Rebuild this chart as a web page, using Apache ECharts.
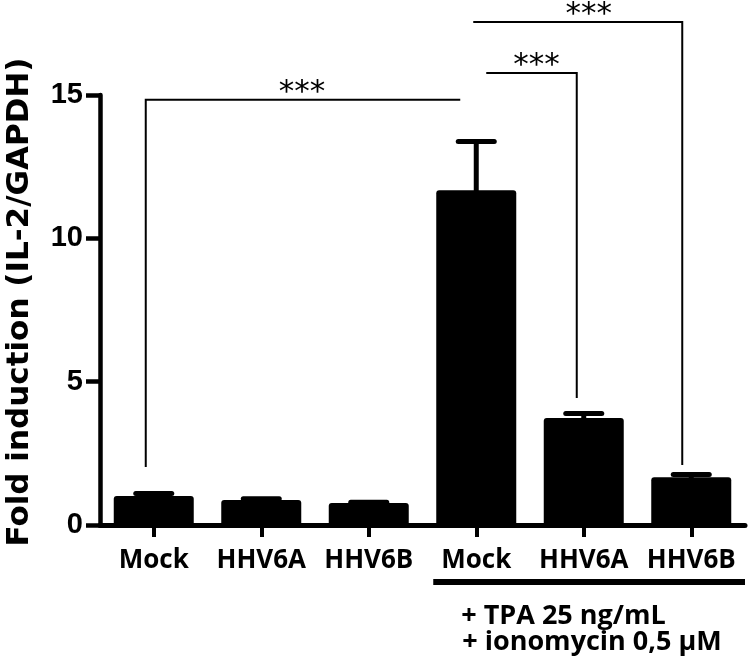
<!DOCTYPE html>
<html><head><meta charset="utf-8">
<script src="https://cdn.jsdelivr.net/npm/echarts@6/dist/echarts.min.js"></script>
<style>html,body{margin:0;padding:0;background:#fff}#c{width:750px;height:667px}</style>
</head><body><div id="c"></div>
<script>
// ---- data ----
const categories = ['Mock', 'HHV6A', 'HHV6B', 'Mock', 'HHV6A', 'HHV6B'];
const means = [1.01, 0.87, 0.77, 11.68, 3.73, 1.67];
const sems = [0.09, 0.05, 0.02, 1.70, 0.16, 0.09];
const yTicks = [0, 5, 10, 15];
const yTitle = 'Fold induction (IL-2/GAPDH)';
const treatmentLines = ['+ TPA 25 ng/mL', '+ ionomycin 0,5 µM'];
const treatedFrom = 3, treatedTo = 5;
// significance brackets: from/to category, bracket height & leg ends in data units
const brackets = [
  { from: 0, to: 3, top: 14.83, legFrom: 2.02, legTo: null, label: '***' },
  { from: 3, to: 4, top: 15.77, legFrom: null, legTo: 4.43, label: '***' },
  { from: 3, to: 5, top: 17.55, legFrom: null, legTo: 2.09, label: '***' }
];
// ---- styling (pixel offsets) ----
const bracketOffsets = [
  { x0: -8, x1: -16, lx: -1 },
  { x0: 10, x1: -7, lx: 5 },
  { x0: -3, x1: -9, lx: 11 }
];

const chart = echarts.init(document.getElementById('c'), null, { renderer: 'canvas' });

const option = {
  animation: false,
  backgroundColor: '#fff',
  grid: { left: 100, right: 5, top: 95, bottom: 142, containLabel: false, outerBoundsMode: 'none' },
  xAxis: {
    type: 'category',
    data: categories,
    boundaryGap: true,
    axisLine: { show: true, lineStyle: { color: '#000', width: 5 } },
    axisTick: { show: true, alignWithLabel: true, length: 12, lineStyle: { color: '#000', width: 4 } },
    axisLabel: { show: true, interval: 0, margin: 23, color: '#000', fontFamily: 'Open Sans', fontWeight: 'bold', fontSize: 26 },
    splitLine: { show: false }
  },
  yAxis: {
    type: 'value',
    min: 0, max: 15, interval: 5,
    axisLine: { show: true, lineStyle: { color: '#000', width: 4.5 } },
    axisTick: { show: true, length: 14, lineStyle: { color: '#000', width: 4.5 } },
    axisLabel: {
      show: true, margin: 17, color: '#000',
      fontFamily: '"Liberation Sans Narrow", "Liberation Sans", Arial, sans-serif',
      fontWeight: 'bold', fontSize: 29,
      formatter: v => (yTicks.indexOf(v) >= 0 ? String(v) : '')
    },
    splitLine: { show: false }
  },
  series: [
    {
      type: 'bar',
      data: means,
      barWidth: 80,
      itemStyle: { color: '#000', borderRadius: [3, 3, 0, 0] },
      z: 2
    },
    {
      type: 'custom',
      name: 'sem',
      data: means.map((m, i) => [i, m, m + sems[i]]),
      encode: { x: 0, y: [1, 2] },
      z: 3,
      renderItem: function (params, api) {
        const i = api.value(0);
        const p0 = api.coord([i, api.value(1)]);
        const p1 = api.coord([i, api.value(2)]);
        return {
          type: 'group',
          children: [
            { type: 'line', shape: { x1: p0[0], y1: p0[1] + 2, x2: p1[0], y2: p1[1] },
              style: { stroke: '#000', lineWidth: 5 } },
            { type: 'line', shape: { x1: p1[0] - 18, y1: p1[1], x2: p1[0] + 18, y2: p1[1] },
              style: { stroke: '#000', lineWidth: 5, lineCap: 'round' } }
          ]
        };
      }
    },
    {
      type: 'custom',
      name: 'brackets',
      data: brackets.map(b => [b.from, b.top]),
      encode: { x: 0, y: 1 },
      clip: false,
      z: 4,
      renderItem: function (params, api) {
        const b = brackets[params.dataIndex];
        const o = bracketOffsets[params.dataIndex];
        const pA = api.coord([b.from, b.top]);
        const pB = api.coord([b.to, b.top]);
        const xa = pA[0] + o.x0, xb = pB[0] + o.x1, y = pA[1];
        let pts;
        if (b.legFrom !== null) {
          pts = [[xa, api.coord([b.from, b.legFrom])[1]], [xa, y], [xb, y]];
        } else {
          pts = [[xa, y], [xb, y], [xb, api.coord([b.to, b.legTo])[1]]];
        }
        return {
          type: 'group',
          children: [
            { type: 'polyline', shape: { points: pts },
              style: { stroke: '#000', lineWidth: 2, fill: null } },
            { type: 'text', x: (xa + xb) / 2 + o.lx, y: y - 7,
              style: { text: b.label, fill: '#000', font: '31px "DejaVu Sans"',
                       align: 'center', verticalAlign: 'middle' } }
          ]
        };
      }
    }
  ]
};
chart.setOption(option);

// annotations positioned from the axes
const c0 = chart.convertToPixel({ xAxisIndex: 0 }, treatedFrom);
const c1 = chart.convertToPixel({ xAxisIndex: 0 }, treatedTo);
const band = chart.convertToPixel({ xAxisIndex: 0 }, 1) - chart.convertToPixel({ xAxisIndex: 0 }, 0);
const y0 = chart.convertToPixel({ yAxisIndex: 0 }, 0);
const yTop = chart.convertToPixel({ yAxisIndex: 0 }, 15);
chart.setOption({
  graphic: [
    { type: 'line', shape: { x1: c0 - 43, y1: y0 + 57, x2: c1 + band / 2, y2: y0 + 57 },
      style: { stroke: '#000', lineWidth: 6 } },
    { type: 'text', x: c0 - 15, y: y0 + 91,
      style: { text: treatmentLines[0], fill: '#000', font: 'bold 27px "Open Sans"',
               align: 'left', verticalAlign: 'middle' } },
    { type: 'text', x: c0 - 14, y: y0 + 117,
      style: { text: treatmentLines[1], fill: '#000', font: 'bold 27px "Open Sans"',
               align: 'left', verticalAlign: 'middle' } },
    { type: 'text', x: 20, y: (y0 + yTop) / 2 - 8, rotation: Math.PI / 2,
      style: { text: yTitle, fill: '#000', font: 'bold 31px "DejaVu Sans"',
               align: 'center', verticalAlign: 'middle' } }
  ]
});
</script>
</body></html>
